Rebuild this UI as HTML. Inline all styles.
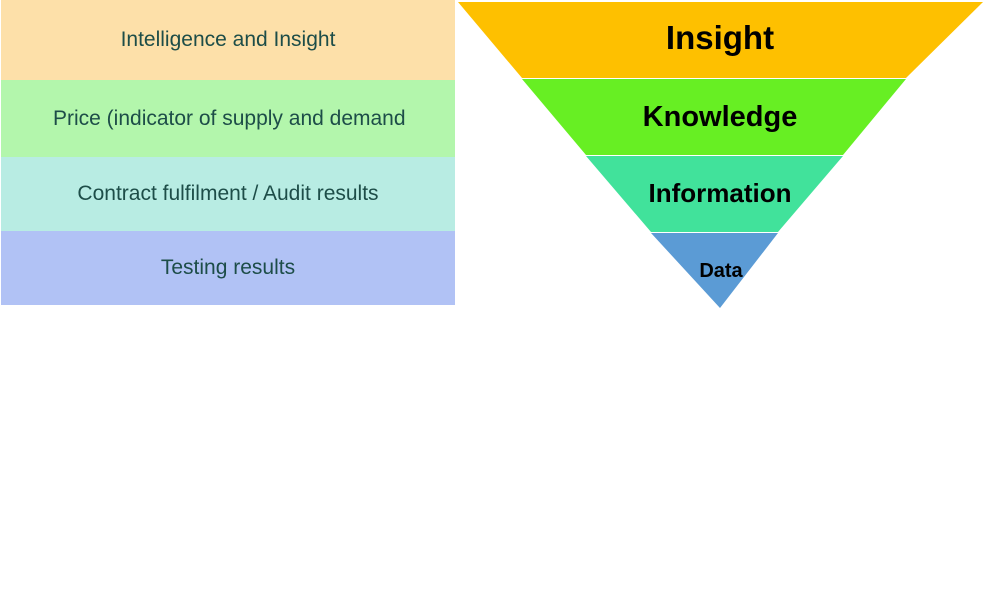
<!DOCTYPE html>
<html><head><meta charset="utf-8"><style>
body{margin:0;width:986px;height:600px;background:#fff;overflow:hidden;position:relative;font-family:"Liberation Sans",sans-serif}
.r{position:absolute;left:1px;width:454px;display:flex;align-items:center;justify-content:center;color:#1d4d48;font-size:21px}
</style></head><body>
<div class="r" style="top:0;height:80px;background:#fde0a9">Intelligence and Insight</div>
<div class="r" style="top:80px;height:77px;background:#b3f6ac;justify-content:flex-start;padding-left:52px;width:402px">Price (indicator of supply and demand</div>
<div class="r" style="top:157px;height:74px;background:#b8ece3">Contract fulfilment / Audit results</div>
<div class="r" style="top:231px;height:74px;background:#b1c2f5">Testing results</div>
<svg width="986" height="600" style="position:absolute;left:0;top:0" font-family="Liberation Sans Narrow, Liberation Sans, sans-serif" font-weight="bold" text-anchor="middle">
<polygon points="458,2 983,2 906,78 522,78" fill="#fec000"/>
<polygon points="522,79 906,79 843,155 586,155" fill="#67ef23"/>
<polygon points="586,156 843,156 778,232 651,232" fill="#41e29b"/>
<polygon points="651,233 778,233 720,308" fill="#5b9bd5"/>
<text x="720" y="49" font-size="33">Insight</text>
<text x="720" y="126" font-size="29">Knowledge</text>
<text x="720" y="202" font-size="26">Information</text>
<text x="721" y="277" font-size="20">Data</text>
</svg>
</body></html>
